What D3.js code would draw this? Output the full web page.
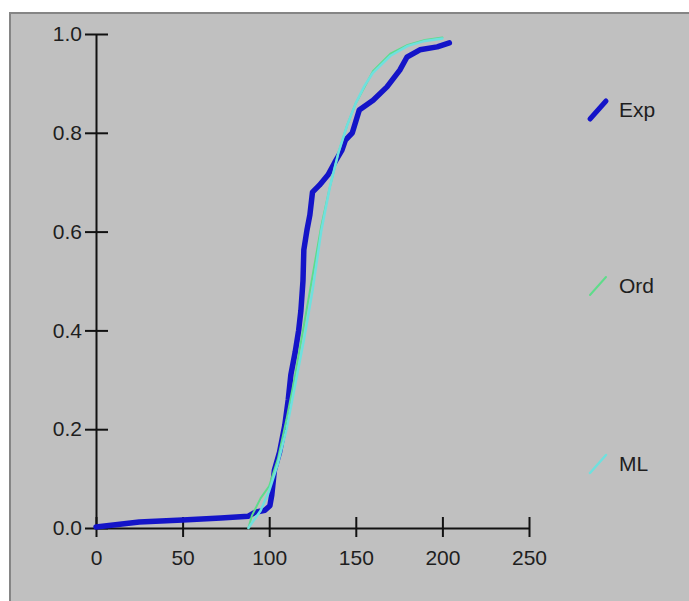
<!DOCTYPE html>
<html>
<head>
<meta charset="utf-8">
<script src="https://cdn.jsdelivr.net/npm/d3@7"></script>
<style>
  html, body { margin: 0; padding: 0; background: #ffffff; }
  svg { display: block; }
  text { font-family: "Liberation Sans", Arial, sans-serif; fill: #1e1e1e; }
</style>
</head>
<body>
<svg id="chart" width="689" height="601"></svg>
<script>
// Empirical distribution (Exp): x value, cumulative probability
const expX = [0, 10, 25, 50, 72, 88, 92, 97.5, 100.4, 101.5, 103, 106, 109, 111, 112.5, 115, 117, 118.3, 119.5, 120, 121.8, 123.5, 125, 129, 134, 138, 142, 144, 148, 150.6, 152, 160, 168, 175.4, 179.5, 187, 197, 204];
const expP = [0.002, 0.006, 0.012, 0.016, 0.02, 0.024, 0.032, 0.036, 0.045, 0.067, 0.117, 0.154, 0.208, 0.26, 0.31, 0.356, 0.40, 0.44, 0.50, 0.563, 0.603, 0.634, 0.68, 0.694, 0.715, 0.741, 0.765, 0.785, 0.80, 0.83, 0.846, 0.866, 0.893, 0.927, 0.953, 0.968, 0.974, 0.982];

// Fitted distribution, ordinary estimate (Ord)
const ordX = [88, 90, 95, 100, 105, 110, 115, 120, 125, 130, 135, 140, 145, 150, 160, 170, 180, 190, 200];
const ordP = [0, 0.025, 0.06, 0.085, 0.14, 0.22, 0.31, 0.41, 0.51, 0.61, 0.69, 0.76, 0.815, 0.86, 0.925, 0.96, 0.978, 0.988, 0.993];

// Fitted distribution, maximum likelihood (ML)
const mlX = [88, 95, 100, 105, 110, 115, 120, 125, 130, 135, 140, 145, 150, 155, 160, 170, 180, 190, 200];
const mlP = [0, 0.035, 0.075, 0.13, 0.2, 0.29, 0.38, 0.48, 0.60, 0.69, 0.76, 0.815, 0.86, 0.895, 0.922, 0.956, 0.976, 0.986, 0.991];

const xTicks = [0, 50, 100, 150, 200, 250];
const yTicks = [0.0, 0.2, 0.4, 0.6, 0.8, 1.0];

const seriesNames = ["Exp", "Ord", "ML"];
const seriesColors = ["#1414c8", "#5edc8a", "#6fe0de"];

const svg = d3.select("#chart");

// grey panel with a darker frame on its top and left edges
svg.append("rect").attr("x", 9).attr("y", 12).attr("width", 680).attr("height", 589).attr("fill", "#c0c0c0");
svg.append("line").attr("x1", 9).attr("x2", 689).attr("y1", 13).attr("y2", 13).attr("stroke", "#858585").attr("stroke-width", 2);
svg.append("line").attr("x1", 10).attr("x2", 10).attr("y1", 12).attr("y2", 601).attr("stroke", "#858585").attr("stroke-width", 2);

const x = d3.scaleLinear().domain([0, 250]).range([96, 529]);
const y = d3.scaleLinear().domain([0, 1]).range([528, 34]);

// x axis
const gx = svg.append("g").attr("transform", `translate(0,${y(0)})`)
  .call(d3.axisBottom(x).tickValues(xTicks).tickSizeOuter(0).tickSizeInner(9).tickPadding(13).tickFormat(d3.format("d")));
gx.select(".domain").attr("stroke", "#111").attr("stroke-width", 2);
gx.selectAll(".tick line").attr("y1", -11).attr("y2", 9).attr("stroke", "#111").attr("stroke-width", 2);
gx.selectAll(".tick text").attr("font-size", 21).style("font-family", "'Liberation Sans', Arial, sans-serif").attr("fill", "#1e1e1e");

// y axis
const gy = svg.append("g").attr("transform", `translate(${x(0)},0)`)
  .call(d3.axisLeft(y).tickValues(yTicks).tickSizeOuter(0).tickSizeInner(11).tickPadding(3).tickFormat(d3.format(".1f")));
gy.select(".domain").attr("stroke", "#111").attr("stroke-width", 2);
gy.selectAll(".tick line").attr("x1", -11).attr("x2", 12).attr("stroke", "#111").attr("stroke-width", 2);
gy.selectAll(".tick text").attr("font-size", 21).style("font-family", "'Liberation Sans', Arial, sans-serif").attr("fill", "#1e1e1e");

const line = d3.line().x(d => x(d[0])).y(d => y(d[1])).curve(d3.curveLinear);

const series = [
  { pts: d3.zip(expX, expP), width: 5.5 },
  { pts: d3.zip(ordX, ordP), width: 2 },
  { pts: d3.zip(mlX, mlP), width: 2.5 }
];

series.forEach((s, i) => {
  svg.append("path").datum(s.pts)
    .attr("d", line)
    .attr("fill", "none")
    .attr("stroke", seriesColors[i])
    .attr("stroke-width", s.width)
    .attr("stroke-linejoin", "round")
    .attr("stroke-linecap", "round");
});

// legend: short slanted swatch plus label
const legendY = [110, 286, 464];
const legendW = [5, 2, 2.5];
seriesNames.forEach((name, i) => {
  const g = svg.append("g").attr("transform", `translate(0,${legendY[i]})`);
  g.append("line").attr("x1", 590).attr("y1", 9).attr("x2", 606).attr("y2", -9)
    .attr("stroke", seriesColors[i]).attr("stroke-width", legendW[i]).attr("stroke-linecap", "round");
  g.append("text").attr("x", 619).attr("y", 0).attr("dy", "0.35em")
    .attr("font-size", 21).text(name);
});
</script>
</body>
</html>
